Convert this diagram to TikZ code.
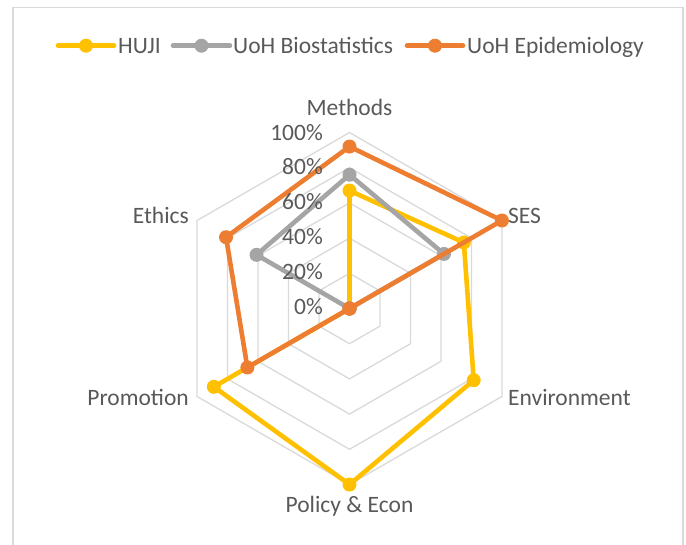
\documentclass[tikz,border=0pt]{standalone}
\usepackage{fontspec}
\setmainfont{Carlito}
\definecolor{hujic}{HTML}{FFC000}
\definecolor{bioc}{HTML}{A5A5A5}
\definecolor{epic}{HTML}{ED7D31}
\definecolor{gridc}{HTML}{D9D9D9}
\definecolor{txtc}{HTML}{595959}
\begin{document}
\begin{tikzpicture}[x=1pt,y=1pt,
  frame/.style={draw=gridc,line width=1.3pt},
  gridline/.style={draw=gridc,line width=1.3pt},
  series/.style={line width=4.6pt,line join=round,line cap=round},
  lbl/.style={text=txtc,font=\fontsize{23.5}{28}\selectfont,inner sep=0pt}]
\useasboundingbox (0,0) rectangle (686,-544);
\draw[frame] (13,-7.5) rectangle (683,-580);
% legend
\coordinate (lha) at (58,-45.7); \coordinate (lhb) at (114,-45.7); \coordinate (lhm) at (86,-45.7);
\coordinate (lba) at (173,-45.7); \coordinate (lbb) at (230,-45.7); \coordinate (lbm) at (201.5,-45.7);
\coordinate (lea) at (407,-45.7); \coordinate (leb) at (463,-45.7); \coordinate (lem) at (435,-45.7);
\draw[series,hujic] (lha) -- (lhb); \fill[hujic] (lhm) circle (7pt);
\draw[series,bioc] (lba) -- (lbb); \fill[bioc] (lbm) circle (7pt);
\draw[series,epic] (lea) -- (leb); \fill[epic] (lem) circle (7pt);
\node[lbl,anchor=base west] (lht) at (118,-53.3) {HUJI};
\node[lbl,anchor=base west] (lbt) at (233,-53.3) {UoH Biostatistics};
\node[lbl,anchor=base west] (let) at (467,-53.3) {UoH Epidemiology};
% radar
\begin{scope}[shift={(349.5,-308.5)}]
\coordinate (c) at (0,0);
\foreach \k in {1,...,5}{
  \draw[gridline] (90:\k*35.2pt) -- (30:\k*35.2pt) -- (-30:\k*35.2pt) -- (-90:\k*35.2pt) -- (-150:\k*35.2pt) -- (150:\k*35.2pt) -- cycle;
}
% HUJI
\coordinate (h1) at (90:0.67*176pt);
\coordinate (h2) at (30:0.75*176pt);
\coordinate (h3) at (-30:0.815*176pt);
\coordinate (h4) at (-90:1.0*176pt);
\coordinate (h5) at (-150:0.89*176pt);
\coordinate (h6) at (c);
% Biostatistics
\coordinate (b1) at (90:0.76*176pt);
\coordinate (b2) at (30:0.62*176pt);
\coordinate (b3) at (c);
\coordinate (b4) at (c);
\coordinate (b5) at (c);
\coordinate (b6) at (150:0.61*176pt);
% Epidemiology
\coordinate (e1) at (90:0.92*176pt);
\coordinate (e2) at (30:1.0*176pt);
\coordinate (e3) at (c);
\coordinate (e4) at (c);
\coordinate (e5) at (-150:0.67*176pt);
\coordinate (e6) at (150:0.81*176pt);
\draw[series,hujic] (h1) -- (h2) -- (h3) -- (h4) -- (h5) -- (h6) -- cycle;
\foreach \p in {h1,h2,h3,h4,h5,h6} \fill[hujic] (\p) circle (7pt);
\draw[series,bioc] (b1) -- (b2) -- (b3) -- (b4) -- (b5) -- (b6) -- cycle;
\foreach \p in {b1,b2,b3,b4,b5,b6} \fill[bioc] (\p) circle (7pt);
\draw[series,epic] (e1) -- (e2) -- (e3) -- (e4) -- (e5) -- (e6) -- cycle;
\foreach \p in {e1,e2,e3,e4,e5,e6} \fill[epic] (\p) circle (7pt);
\end{scope}
% axis labels
\node[lbl,anchor=base] (lm) at (349.5,-115) {Methods};
\node[lbl,anchor=base west] (ls) at (508,-223.3) {SES};
\node[lbl,anchor=base west] (len) at (508,-405) {Environment};
\node[lbl,anchor=base] (lp) at (349.5,-512.7) {Policy \& Econ};
\node[lbl,anchor=base east] (lpr) at (189,-405.5) {Promotion};
\node[lbl,anchor=base east] (let2) at (189,-223.3) {Ethics};
% tick labels
\foreach \v [count=\i from 0] in {0\%,20\%,40\%,60\%,80\%,100\%}{
  \node[lbl,anchor=base east] (t\i) at (323,-314+\i*34.8) {\v};
}
\end{tikzpicture}
\end{document}
